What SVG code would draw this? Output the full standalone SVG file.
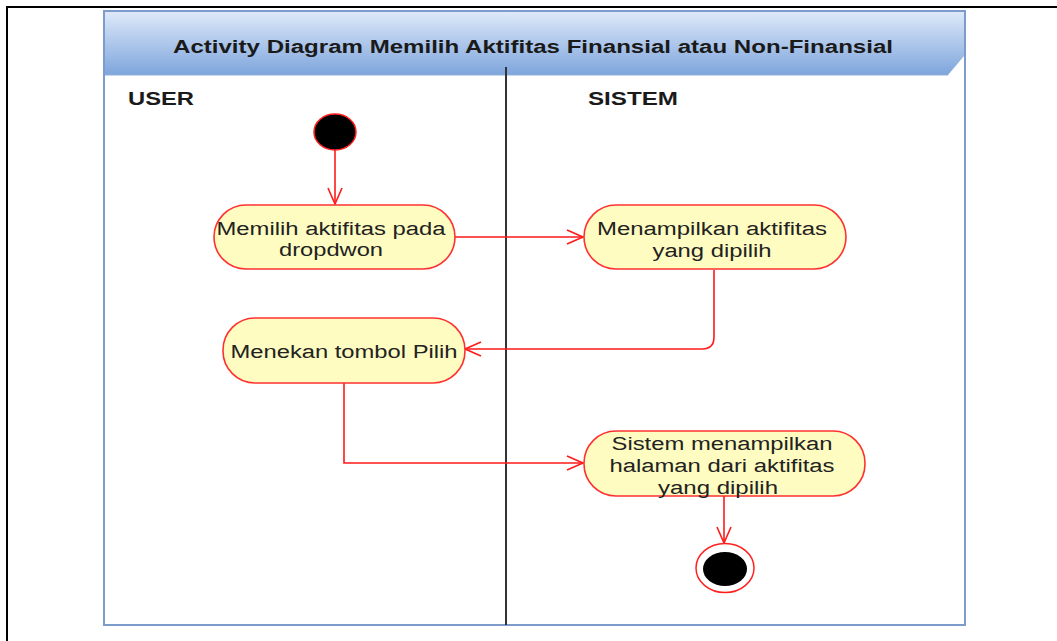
<svg xmlns="http://www.w3.org/2000/svg" width="1057" height="641" viewBox="0 0 1057 641">
  <defs>
    <linearGradient id="hdr" x1="0" y1="0" x2="0" y2="1">
      <stop offset="0" stop-color="#dde9f9"/>
      <stop offset="1" stop-color="#7ea5dc"/>
    </linearGradient>
    <marker id="open" viewBox="0 0 20 20" refX="18" refY="10" markerWidth="20" markerHeight="20" markerUnits="userSpaceOnUse" orient="auto">
      <path d="M2,3 L18,10 L2,17" fill="none" stroke="#ff1a1a" stroke-width="1.6"/>
    </marker>
  </defs>
  <style>
    .act { fill: #fefcc0; stroke: #ff3030; stroke-width: 1.6; }
    .lbl { font-family: "Liberation Sans", Arial, sans-serif; font-size: 18px; fill: #222; text-anchor: middle; }
    .lane { font-family: "Liberation Sans", Arial, sans-serif; font-size: 18px; font-weight: bold; fill: #1a1a1a; }
    .edge { fill: none; stroke: #ff1a1a; stroke-width: 1.6; marker-end: url(#open); }
  </style>

  <rect width="1057" height="641" fill="#ffffff"/>

  <!-- page border -->
  <line x1="6" y1="7" x2="1057" y2="7" stroke="#000" stroke-width="2"/>
  <line x1="7" y1="7" x2="7" y2="641" stroke="#000" stroke-width="2"/>

  <!-- activity frame with swimlanes -->
  <g id="frame">
    <rect x="104" y="11" width="861" height="614" fill="#ffffff" stroke="#7d9bcb" stroke-width="2"/>
    <path d="M105,12 H964 V56 L948,75 H105 Z" fill="url(#hdr)"/>
    <line x1="105" y1="75" x2="948" y2="75" stroke="#8fb0de" stroke-width="1"/>
    <text x="533" y="53" class="lane" text-anchor="middle" textLength="720" lengthAdjust="spacingAndGlyphs">Activity Diagram Memilih Aktifitas Finansial atau Non-Finansial</text>
    <line x1="506" y1="67" x2="506" y2="625" stroke="#333" stroke-width="2"/>
    <text x="128" y="105" class="lane" textLength="66" lengthAdjust="spacingAndGlyphs">USER</text>
    <text x="588" y="105" class="lane" textLength="90" lengthAdjust="spacingAndGlyphs">SISTEM</text>
  </g>

  <!-- connectors -->
  <g id="connectors">
    <path class="edge" d="M335,150 V204"/>
    <path class="edge" d="M455,237 H583"/>
    <path class="edge" d="M714,270 V337 Q714,349 702,349 H465"/>
    <path class="edge" d="M344,383 V463 H583"/>
    <path class="edge" d="M724,496 V543"/>
  </g>

  <g id="start">
    <ellipse cx="335" cy="132" rx="21" ry="18" fill="#000" stroke="#ff2020" stroke-width="1.5"/>
  </g>

  <g id="act-memilih">
    <rect class="act" x="214" y="205" width="241" height="64" rx="32"/>
    <text class="lbl" x="331" y="235" textLength="229" lengthAdjust="spacingAndGlyphs">Memilih aktifitas pada</text>
    <text class="lbl" x="331" y="256" textLength="104" lengthAdjust="spacingAndGlyphs">dropdwon</text>
  </g>

  <g id="act-menampilkan">
    <rect class="act" x="584" y="205" width="262" height="64" rx="32"/>
    <text class="lbl" x="712" y="235" textLength="230" lengthAdjust="spacingAndGlyphs">Menampilkan aktifitas</text>
    <text class="lbl" x="712" y="257" textLength="119" lengthAdjust="spacingAndGlyphs">yang dipilih</text>
  </g>

  <g id="act-menekan">
    <rect class="act" x="223" y="318" width="242" height="65" rx="32"/>
    <text class="lbl" x="344" y="358" textLength="227" lengthAdjust="spacingAndGlyphs">Menekan tombol Pilih</text>
  </g>

  <g id="act-halaman">
    <rect class="act" x="584" y="431" width="281" height="65" rx="32"/>
    <text class="lbl" x="722" y="450" textLength="221" lengthAdjust="spacingAndGlyphs">Sistem menampilkan</text>
    <text class="lbl" x="722" y="472" textLength="225" lengthAdjust="spacingAndGlyphs">halaman dari aktifitas</text>
    <text class="lbl" x="718" y="494" textLength="120" lengthAdjust="spacingAndGlyphs">yang dipilih</text>
  </g>

  <g id="end">
    <ellipse cx="725" cy="568" rx="29" ry="24.5" fill="#ffffff" stroke="#ff2020" stroke-width="1.5"/>
    <ellipse cx="725" cy="569" rx="22" ry="17" fill="#000"/>
  </g>
</svg>
